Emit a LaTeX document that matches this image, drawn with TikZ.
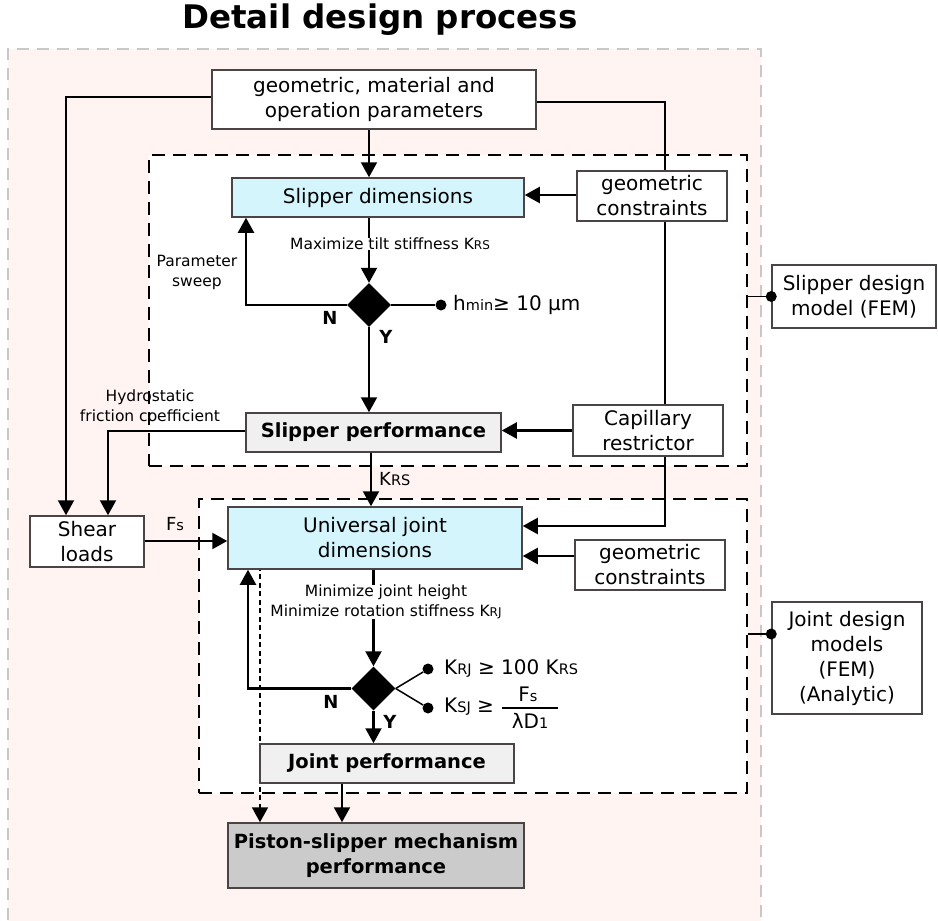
\documentclass[tikz,border=0pt]{standalone}
\usepackage{fontspec}
\setmainfont{DejaVu Sans}
\usetikzlibrary{shapes.geometric,arrows.meta}
\pgfdeclarelayer{back}
\pgfdeclarelayer{mid}
\pgfsetlayers{back,mid,main}

\definecolor{regionfill}{HTML}{FFF4F2}
\definecolor{regionline}{HTML}{C8C8C8}
\definecolor{boxline}{HTML}{4A4444}
\definecolor{dimfill}{HTML}{D5F5FD}
\definecolor{perffill}{HTML}{F0F0F0}
\definecolor{mechfill}{HTML}{CBCBCB}

% smaller trailing letters used in the stiffness symbols
\newcommand\lowsub[1]{{\fontsize{12}{12}\selectfont #1}}
\newcommand\lowsubbig[1]{{\fontsize{14.5}{14.5}\selectfont #1}}

\tikzset{
  box/.style={draw=boxline, line width=1.5pt, fill=white, inner sep=0pt,
    align=center, font=\fontsize{20}{25}\selectfont},
  dimbox/.style={box, fill=dimfill},
  perfbox/.style={box, fill=perffill, font=\fontsize{19.5}{25}\selectfont\bfseries},
  mechbox/.style={box, fill=mechfill, font=\fontsize{19.5}{25}\selectfont\bfseries},
  groupbox/.style={draw=black, fill=white, line width=2pt,
    dash pattern=on 13pt off 8pt, inner sep=0pt},
  decision/.style={diamond, fill=black, inner sep=0pt, minimum width=44pt,
    minimum height=44pt, aspect=1},
  conn/.style={line width=2.2pt},
  arr/.style={line width=2.2pt, -{Triangle[length=15pt,width=16pt]}},
  dot/.style={circle, fill=black, inner sep=0pt, minimum size=11pt},
  note/.style={inner sep=0pt, align=center, font=\fontsize{15.5}{20}\selectfont},
  yn/.style={inner sep=0pt, font=\fontsize{18}{18}\selectfont\bfseries},
}

\begin{document}
\begin{tikzpicture}[x=1pt, y=-1pt]
\useasboundingbox (0,0) rectangle (938,921);

% title
\node[inner sep=0pt, font=\fontsize{32.5}{36}\selectfont\bfseries] (title) at (380,20) {Detail design process};

% process blocks
\node[box, minimum width=324pt, minimum height=59pt] (params) at (374,99.5)
  {geometric, material and\\operation parameters};
\node[dimbox, minimum width=292pt, minimum height=39pt] (sdim) at (378,197.5) {Slipper dimensions};
\node[box, minimum width=150pt, minimum height=50pt] (geo1) at (652,196) {geometric\\constraints};
\node[decision] (d1) at (369,305) {};
\node[perfbox, minimum width=255pt, minimum height=39pt] (sperf) at (373.5,432.5) {Slipper performance};
\node[box, minimum width=150pt, minimum height=51pt] (capil) at (648,430.5) {Capillary\\restrictor};
\node[box, minimum width=114pt, minimum height=51pt] (shear) at (87,541.5) {Shear\\loads};
\node[dimbox, minimum width=294pt, minimum height=62pt] (ujd) at (375,538) {Universal joint\\dimensions};
\node[box, minimum width=150pt, minimum height=50pt] (geo2) at (650,565) {geometric\\constraints};
\node[decision] (d2) at (373.5,688.5) {};
\node[perfbox, minimum width=254pt, minimum height=39pt] (jperf) at (387,763.5) {Joint performance};
\node[mechbox, minimum width=296pt, minimum height=65pt] (mech) at (376,855.5)
  {Piston-slipper mechanism\\performance};
\node[box, minimum width=164pt, minimum height=63pt] (sdm) at (854,296.5) {Slipper design\\model (FEM)};
\node[box, minimum width=150pt, minimum height=112pt] (jdm) at (847,658)
  {Joint design\\models\\(FEM)\\(Analytic)};

% labels
\node[note] (lbl1) at (390,244) {Maximize tilt stiffness K\lowsub{RS}};
\node[note] (lbl2) at (386,602) {Minimize joint height\\Minimize rotation stiffness K\lowsub{RJ}};
\node[note] (sweep) at (197,272) {Parameter\\sweep};
\node[note] (hydro) at (150,406) {Hydrostatic\\friction coefficient};
\node[yn] (n1) at (330,318) {N};
\node[yn] (y1) at (386,337) {Y};
\node[yn] (n2) at (331,702) {N};
\node[yn] (y2) at (390,722) {Y};
\node[inner sep=0pt, anchor=west, font=\fontsize{18}{18}\selectfont] (krs) at (379,479) {K\lowsubbig{RS}};
\node[inner sep=0pt, font=\fontsize{18}{18}\selectfont] (fs) at (175,524) {F\lowsubbig{s}};

\node[dot] (dot1) at (441,305) {};
\node[inner sep=0pt, anchor=west, font=\fontsize{20}{20}\selectfont] (hmin) at (453,305)
  {h\lowsubbig{min}≥ 10 μm};
\node[dot] (dot2) at (428,669) {};
\node[dot] (dot3) at (428,708) {};
\node[inner sep=0pt, anchor=west, font=\fontsize{20}{20}\selectfont] (crj) at (444,669)
  {K\lowsubbig{RJ} ≥ 100 K\lowsubbig{RS}};
\node[inner sep=0pt, anchor=west, font=\fontsize{20}{20}\selectfont] (csj) at (444,707)
  {K\lowsubbig{SJ} ≥};
\node[inner sep=0pt, font=\fontsize{20}{20}\selectfont] (fnum) at (528,694) {F\lowsubbig{s}};
\node[inner sep=0pt, font=\fontsize{20}{20}\selectfont] (fden) at (530,721) {λD\lowsubbig{1}};

% helper coordinates for the bends
\coordinate (c1) at (66,97);
\coordinate (c2) at (108,431);
\coordinate (c3) at (665,102);
\coordinate (c4) at (0,526);
\coordinate (c5) at (246,0);
\coordinate (c6) at (371,0);
\coordinate (c7) at (0,541);
\coordinate (c8) at (248,0);
\coordinate (c9) at (260,0);
\coordinate (c10) at (342,0);
\coordinate (c11) at (0,556);
\coordinate (c12) at (0,634);
\coordinate (c13) at (0,195);

% background regions
\begin{pgfonlayer}{back}
  \fill[regionfill] (8,49) rectangle (761,940);
  \draw[regionline, line width=2pt, dash pattern=on 12pt off 8pt] (8,940) -- (8,49) -- (761,49) -- (761,940);
  \node[groupbox, minimum width=598pt, minimum height=311pt] (sbox) at (448,310.5) {};
  \node[groupbox, minimum width=548pt, minimum height=294pt] (jbox) at (473,646) {};
\end{pgfonlayer}

% connectors
\begin{pgfonlayer}{mid}
  \draw[arr] (params.west |- c1) -| (shear.north -| c1);
  \draw[arr] (sperf.west |- c2) -| (shear.north -| c2);
  \draw[conn] (params.east |- c3) -| (capil.north -| c3);
  \draw[arr] (capil.south -| c3) |- (ujd.east |- c4);
  \draw[arr] (params.south -| d1) -- (sdim.north -| d1);
  \draw[arr] (geo1.west |- c13) -- (sdim.east |- c13);
  \draw[conn] (sdim.south -| d1) -- (d1 |- lbl1.north);
  \draw[arr] (d1 |- lbl1.south) -- (d1.north);
  \draw[arr] (d1.west) -| (sdim.south -| c5);
  \draw[conn] (d1.east) -- (dot1);
  \draw[arr] (d1.south) -- (sperf.north -| d1.south);
  \draw[arr] (capil.west) -- (sperf.east |- capil.west);
  \draw[arr] (sperf.south -| c6) -- (ujd.north -| c6);
  \draw[arr] (shear.east |- c7) -- (ujd.west |- c7);
  \draw[arr] (geo2.west |- c11) -- (ujd.east |- c11);
  \draw[conn] (ujd.south -| d2) -- (d2 |- lbl2.north);
  \draw[arr] (d2 |- lbl2.south) -- (d2.north);
  \draw[arr] (d2.west) -| (ujd.south -| c8);
  \draw[conn, line width=1.5pt] (d2.east) -- (dot2);
  \draw[conn, line width=1.5pt] (d2.east) -- (dot3);
  \draw[arr] (d2.south) -- (jperf.north -| d2.south);
  \draw[arr, line width=2pt, dash pattern=on 5pt off 3.5pt] ([yshift=4pt]ujd.south -| c9) -- (mech.north -| c9);
  \draw[arr] (jperf.south -| c10) -- (mech.north -| c10);
  \draw[line width=1.3pt] (502,708) -- (558,708);
  \draw[conn, line width=1.6pt] (sbox.east |- sdm.west) -- (sdm.west);
  \draw[conn, line width=1.6pt] (jbox.east |- c12) -- (jdm.west |- c12);
\end{pgfonlayer}
\node[dot] at (sdm.west) {};
\node[dot] at (jdm.west |- c12) {};
\end{tikzpicture}
\end{document}
